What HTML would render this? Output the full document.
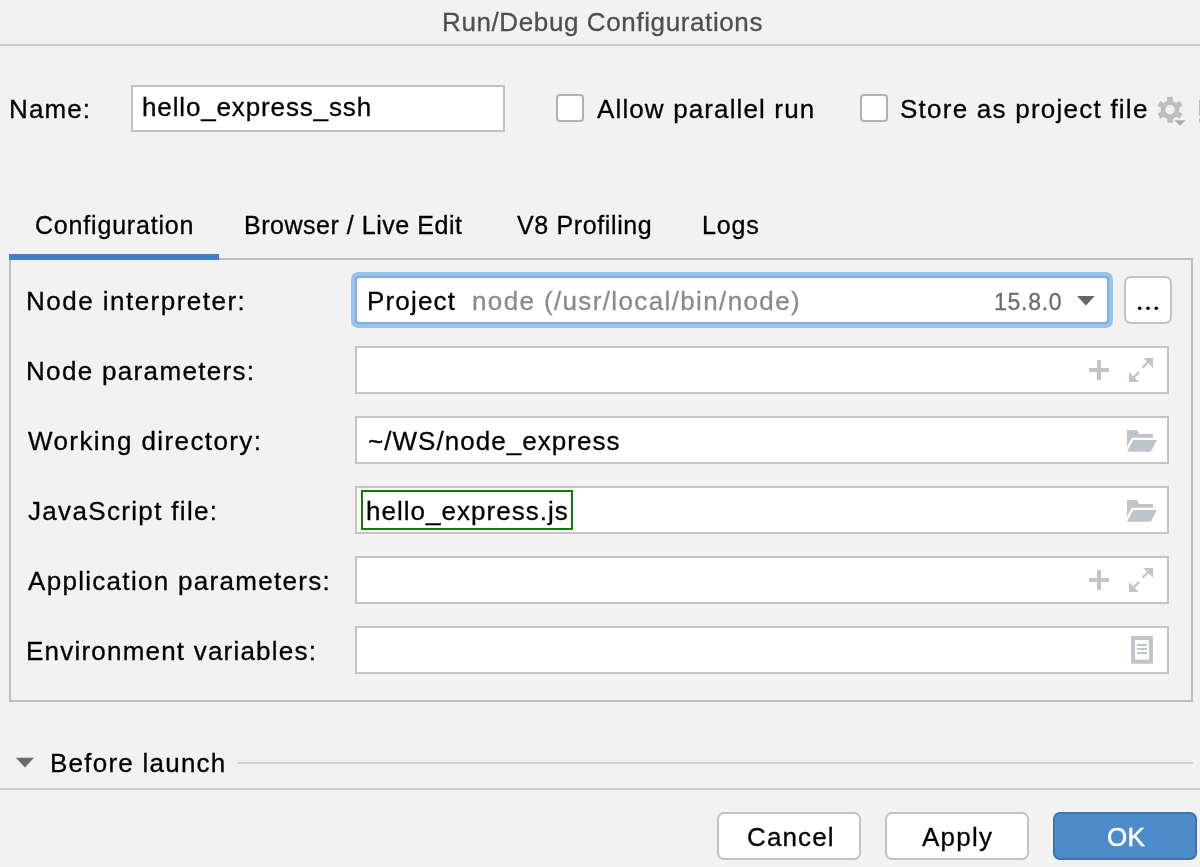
<!DOCTYPE html>
<html><head><meta charset="utf-8">
<style>
html,body{margin:0;padding:0;}
body{width:1200px;height:867px;background:#f2f2f2;position:relative;overflow:hidden;font-family:"Liberation Sans",sans-serif;color:#000;}
.t{position:absolute;white-space:nowrap;font-size:26px;line-height:26px;will-change:transform;-webkit-text-stroke:0.3px currentColor;}
.b{position:absolute;box-sizing:border-box;}
.hl{position:absolute;height:2px;background:#c9c9c9;}
.fld{position:absolute;box-sizing:border-box;background:#fff;border:2px solid #c4c4c4;}
.cb{position:absolute;box-sizing:border-box;background:#fff;border:2px solid #b1b1b1;border-radius:4px;width:28px;height:28px;}
.btn{position:absolute;box-sizing:border-box;background:#fff;border:2px solid #c3c3c3;border-radius:7px;}
</style></head><body>
<!-- title -->
<div class="t" style="left:442px;top:9px;letter-spacing:0.61px;color:#4f4f4f">Run/Debug Configurations</div>
<div class="hl" style="left:0;top:44px;width:1200px"></div>

<!-- name row -->
<div class="t" style="left:8.8px;top:96px;letter-spacing:1.12px">Name:</div>
<div class="fld" style="left:131px;top:85px;width:374px;height:47px;border-color:#c2c2c2"></div>
<div class="t" style="left:141.5px;top:94px;letter-spacing:0.86px">hello_express_ssh</div>
<div class="cb" style="left:556px;top:94px"></div>
<div class="t" style="left:597px;top:96px;letter-spacing:1.13px">Allow parallel run</div>
<div class="cb" style="left:860px;top:94px"></div>
<div class="t" style="left:900.2px;top:96px;letter-spacing:1.24px">Store as project file</div>

<!-- tabs -->
<div class="t" style="font-size:25px;line-height:25px;left:35.3px;top:212.5px;letter-spacing:0.81px">Configuration</div>
<div class="t" style="font-size:25px;line-height:25px;left:244px;top:212.5px;letter-spacing:0.53px">Browser / Live Edit</div>
<div class="t" style="font-size:25px;line-height:25px;left:516.5px;top:212.5px;letter-spacing:0.63px">V8 Profiling</div>
<div class="t" style="font-size:25px;line-height:25px;left:701.5px;top:212.5px;letter-spacing:0.85px">Logs</div>

<!-- panel -->
<div class="b" style="left:9px;top:258px;width:1184px;height:444px;border:2px solid #bdbdbd"></div>
<div class="b" style="left:9px;top:254px;width:210px;height:6px;background:#3d7fca"></div>

<!-- rows -->
<div class="t" style="left:26px;top:288px;letter-spacing:1.48px">Node interpreter:</div>
<div class="t" style="left:26px;top:358px;letter-spacing:1.33px">Node parameters:</div>
<div class="t" style="left:28px;top:428px;letter-spacing:1.41px">Working directory:</div>
<div class="t" style="left:27.6px;top:498px;letter-spacing:1.33px">JavaScript file:</div>
<div class="t" style="left:28px;top:568px;letter-spacing:1.3px">Application parameters:</div>
<div class="t" style="left:26.3px;top:638px;letter-spacing:1.21px">Environment variables:</div>

<!-- combo -->
<div class="b" style="left:351px;top:272px;width:762px;height:56px;border-radius:7px;background:#97c3f2"></div>
<div class="b" style="left:355px;top:276px;width:754px;height:48px;border-radius:4px;background:#82acdb"></div>
<div class="b" style="left:357px;top:278px;width:750px;height:44px;border-radius:3px;background:#fff"></div>
<div class="t" style="left:366.7px;top:288px;letter-spacing:1.17px">Project</div>
<div class="t" style="left:471.8px;top:288px;letter-spacing:1.37px;color:#8a8a8a">node (/usr/local/bin/node)</div>
<div class="t" style="font-size:23px;line-height:23px;left:993.8px;top:291px;letter-spacing:0.72px;color:#6d6d6d">15.8.0</div>
<svg class="b" style="left:1076px;top:294px" width="22" height="14"><polygon points="1.1,2.1 18.7,2.1 9.9,11.6" fill="#666"/></svg>
<div class="btn" style="left:1124px;top:276px;width:48px;height:48px;border-radius:7px"></div>

<!-- fields -->
<div class="fld" style="left:355px;top:346px;width:814px;height:48px"></div>
<div class="fld" style="left:355px;top:416px;width:814px;height:48px"></div>
<div class="fld" style="left:355px;top:486px;width:814px;height:48px"></div>
<div class="fld" style="left:355px;top:556px;width:814px;height:48px"></div>
<div class="fld" style="left:355px;top:626px;width:814px;height:48px"></div>

<div class="t" style="left:367.9px;top:428px;letter-spacing:1.04px">~/WS/node_express</div>
<div class="b" style="left:361px;top:490px;width:212px;height:40px;border:2px solid #0b7d0b"></div>
<div class="t" style="left:366.2px;top:498px;letter-spacing:1.02px">hello_express.js</div>


<!-- icons -->
<svg class="b" style="left:1150px;top:90px" width="50" height="40" viewBox="1150 90 50 40">
 <g fill="#bdbdbd">
  <circle cx="1170" cy="109.8" r="9.4"/>
  <rect x="1167.15" y="96.9" width="5.7" height="25.8"/>
  <rect x="1167.15" y="96.9" width="5.7" height="25.8" transform="rotate(60 1170 109.8)"/>
  <rect x="1167.15" y="96.9" width="5.7" height="25.8" transform="rotate(120 1170 109.8)"/>
 </g>
 <circle cx="1170" cy="109.8" r="4.7" fill="#f2f2f2"/>
 <polygon points="1173.2,119.6 1187,119.6 1180,126.6" fill="#f2f2f2"/>
 <polygon points="1174.3,120.2 1185.8,120.2 1180,125.8" fill="#adadad"/>
 <rect x="1199" y="100" width="1" height="15.5" fill="#bdbdbd"/>
 <rect x="1199" y="118" width="1" height="4.5" fill="#bdbdbd"/>
</svg>
<svg class="b" style="left:1124px;top:276px" width="48" height="48" viewBox="1124 276 48 48">
 <circle cx="1139.7" cy="308.3" r="1.8" fill="#000"/>
 <circle cx="1148" cy="308.3" r="1.8" fill="#000"/>
 <circle cx="1156.3" cy="308.3" r="1.8" fill="#000"/>
</svg>
<svg class="b" style="left:1080px;top:350px" width="80" height="40" viewBox="1080 350 80 40">
 <g fill="#c0c5c9" transform="translate(0 0)">
  <rect x="1089" y="368" width="20" height="4"/>
  <rect x="1097" y="360" width="4" height="20"/>
  <polygon points="1143.2,358.1 1153,358.1 1153,367.8"/>
  <polygon points="1129,372 1129,381.9 1138.8,381.9"/>
 </g>
 <g stroke="#c0c5c9" stroke-width="2.3" transform="translate(0 0)">
  <line x1="1149.5" y1="360.6" x2="1142.6" y2="367.6"/>
  <line x1="1139.2" y1="371.9" x2="1132.4" y2="378.7"/>
 </g>
</svg>
<svg class="b" style="left:1080px;top:560px" width="80" height="40" viewBox="1080 560 80 40">
 <g fill="#c0c5c9" transform="translate(0 210)">
  <rect x="1089" y="368" width="20" height="4"/>
  <rect x="1097" y="360" width="4" height="20"/>
  <polygon points="1143.2,358.1 1153,358.1 1153,367.8"/>
  <polygon points="1129,372 1129,381.9 1138.8,381.9"/>
 </g>
 <g stroke="#c0c5c9" stroke-width="2.3" transform="translate(0 210)">
  <line x1="1149.5" y1="360.6" x2="1142.6" y2="367.6"/>
  <line x1="1139.2" y1="371.9" x2="1132.4" y2="378.7"/>
 </g>
</svg>
<svg class="b" style="left:1120px;top:424px" width="42" height="34" viewBox="1120 424 42 34">
 <g fill="#bfc4c8" transform="translate(0 0)">
  <polygon points="1126.9,430.1 1137,430.1 1139.05,434.07 1152.9,434.07 1152.9,437.67 1132,437.67 1126.9,446.66"/>
  <polygon points="1133.2,440.1 1156.9,440.1 1150.8,451.7 1126.9,451.7"/>
 </g>
</svg>
<svg class="b" style="left:1120px;top:494px" width="42" height="34" viewBox="1120 494 42 34">
 <g fill="#bfc4c8" transform="translate(0 70)">
  <polygon points="1126.9,430.1 1137,430.1 1139.05,434.07 1152.9,434.07 1152.9,437.67 1132,437.67 1126.9,446.66"/>
  <polygon points="1133.2,440.1 1156.9,440.1 1150.8,451.7 1126.9,451.7"/>
 </g>
</svg>
<svg class="b" style="left:1126px;top:630px" width="32" height="40" viewBox="1126 630 32 40">
 <rect x="1133.1" y="638" width="17.8" height="23.7" fill="none" stroke="#bfc4c8" stroke-width="4"/>
 <g fill="#bfc4c8"><rect x="1137" y="644" width="10" height="2"/><rect x="1137" y="648" width="10" height="2"/><rect x="1137" y="652" width="10" height="2"/></g>
</svg>

<!-- before launch -->
<svg class="b" style="left:14px;top:754px" width="24" height="16"><polygon points="1.9,3.8 19.9,3.8 11,13.6" fill="#6a6a6a"/></svg>
<div class="t" style="left:50.4px;top:750px;letter-spacing:1.24px">Before launch</div>
<div class="hl" style="left:237px;top:762px;width:956px;background:#cfcfcf"></div>
<div class="hl" style="left:0;top:788px;width:1200px;background:#cdcdcd"></div>

<!-- buttons -->
<div class="btn" style="left:717px;top:812px;width:144px;height:48px"></div>
<div class="t" style="left:747.3px;top:824px;letter-spacing:1.14px">Cancel</div>
<div class="btn" style="left:885px;top:812px;width:144px;height:48px"></div>
<div class="t" style="left:922px;top:824px;letter-spacing:1.25px">Apply</div>
<div class="btn" style="left:1053px;top:812px;width:144px;height:48px;background:#4d8bcb;border-color:#3b73b6"></div>
<div class="t" style="left:1106.6px;top:824px;letter-spacing:0.4px;color:#fff;-webkit-text-stroke:0.5px #fff">OK</div>
</body></html>
